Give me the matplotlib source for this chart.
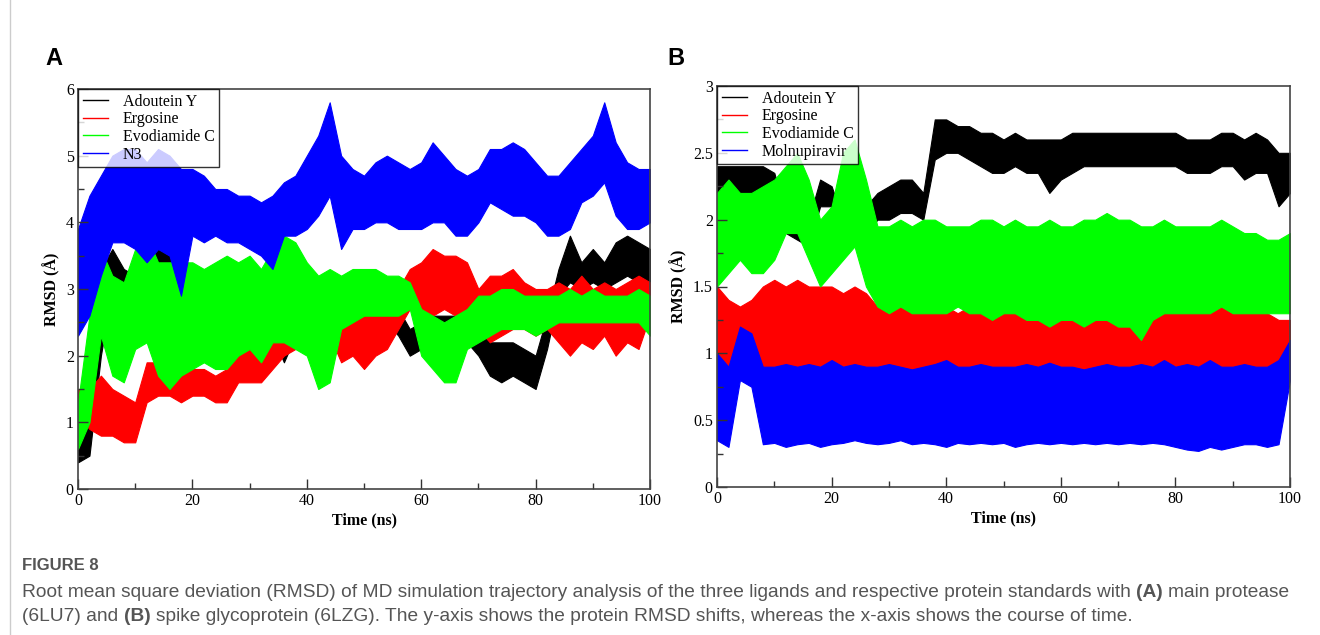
import matplotlib
matplotlib.use("Agg")
import matplotlib.pyplot as plt
from matplotlib.ticker import MultipleLocator, FormatStrFormatter

# time axis (ns), values read every 2 ns as low / high edge of each trace band
time_ns = list(range(0, 101, 2))

# ---- panel A: main protease (6LU7) ----
a_adoutein_lo = [0.4, 0.5, 2.0, 3.0, 2.8, 2.7, 3.1, 3.1, 3.0, 2.2, 2.3, 2.4, 2.4, 2.4, 2.4, 2.5, 2.5, 2.3, 1.9, 2.3,
                 2.5, 2.7, 2.8, 2.6, 2.6, 2.6, 2.6, 2.5, 2.3, 2.0, 2.1, 2.1, 2.0, 2.1, 2.2, 2.0, 1.7, 1.6, 1.7, 1.6,
                 1.5, 2.1, 2.9, 3.1, 3.0, 3.1, 3.0, 3.1, 3.2, 3.1, 3.0]
a_adoutein_hi = [0.8, 1.9, 3.3, 3.6, 3.3, 3.2, 3.5, 3.6, 3.5, 2.9, 2.9, 2.9, 2.8, 2.8, 2.8, 2.9, 2.9, 2.8, 2.4, 2.8,
                 2.9, 3.0, 3.1, 3.0, 3.0, 3.0, 3.0, 2.9, 2.7, 2.4, 2.5, 2.6, 2.6, 2.6, 2.7, 2.6, 2.2, 2.2, 2.2, 2.1,
                 2.0, 2.6, 3.3, 3.8, 3.4, 3.6, 3.4, 3.7, 3.8, 3.7, 3.6]
a_ergosine_lo = [1.1, 0.9, 0.8, 0.8, 0.7, 0.7, 1.3, 1.4, 1.4, 1.3, 1.4, 1.4, 1.3, 1.3, 1.6, 1.6, 1.6, 1.8, 2.0, 2.1,
                 2.1, 2.2, 2.3, 1.9, 2.0, 1.8, 2.0, 2.1, 2.4, 2.7, 2.6, 2.6, 2.7, 2.6, 2.6, 2.4, 2.2, 2.3, 2.4, 2.4,
                 2.3, 2.4, 2.2, 2.0, 2.2, 2.1, 2.3, 2.0, 2.2, 2.1, 2.6]
a_ergosine_hi = [1.5, 1.5, 1.7, 1.5, 1.4, 1.3, 1.9, 1.9, 1.8, 1.9, 1.8, 1.8, 1.7, 1.8, 2.1, 2.2, 2.2, 2.4, 2.5, 2.5,
                 2.6, 2.7, 2.8, 2.5, 2.6, 2.6, 2.7, 2.6, 3.0, 3.3, 3.4, 3.6, 3.5, 3.5, 3.4, 3.0, 3.2, 3.2, 3.3, 3.1,
                 3.0, 3.0, 3.1, 3.0, 3.2, 3.0, 3.1, 3.0, 3.1, 3.2, 3.1]
a_evodiamide_lo = [0.6, 1.0, 2.3, 1.7, 1.6, 2.1, 2.2, 1.7, 1.5, 1.7, 1.8, 1.9, 1.8, 1.8, 2.0, 2.1, 1.9, 2.2, 2.2, 2.1,
                   2.0, 1.5, 1.6, 2.4, 2.5, 2.6, 2.6, 2.6, 2.6, 2.7, 2.0, 1.8, 1.6, 1.6, 2.1, 2.2, 2.3, 2.4, 2.4, 2.4,
                   2.3, 2.4, 2.5, 2.5, 2.5, 2.5, 2.5, 2.5, 2.5, 2.5, 2.3]
a_evodiamide_hi = [1.3, 2.6, 3.6, 3.2, 3.1, 3.6, 3.8, 3.4, 3.4, 3.4, 3.4, 3.3, 3.4, 3.5, 3.4, 3.5, 3.3, 3.6, 3.8, 3.7,
                   3.4, 3.2, 3.3, 3.2, 3.3, 3.3, 3.3, 3.2, 3.2, 3.1, 2.7, 2.6, 2.5, 2.6, 2.7, 2.9, 2.9, 3.0, 3.0, 2.9,
                   2.9, 2.9, 2.9, 3.0, 2.9, 3.0, 2.9, 2.9, 2.9, 3.0, 2.9]
a_n3_lo = [2.3, 2.6, 3.2, 3.7, 3.7, 3.6, 3.4, 3.6, 3.5, 2.9, 3.8, 3.7, 3.8, 3.7, 3.7, 3.6, 3.5, 3.3, 3.8, 3.8,
           3.9, 4.1, 4.4, 3.6, 3.9, 3.9, 4.0, 4.0, 3.9, 3.9, 3.9, 4.0, 4.0, 3.8, 3.8, 4.0, 4.3, 4.2, 4.1, 4.1,
           4.0, 3.8, 3.8, 3.9, 4.3, 4.4, 4.6, 4.1, 3.9, 3.9, 4.0]
a_n3_hi = [3.9, 4.4, 4.7, 5.0, 5.1, 5.1, 4.9, 5.1, 5.0, 4.8, 4.8, 4.7, 4.5, 4.5, 4.4, 4.4, 4.3, 4.4, 4.6, 4.7,
           5.0, 5.3, 5.8, 5.0, 4.8, 4.7, 4.9, 5.0, 4.9, 4.8, 4.9, 5.2, 5.0, 4.8, 4.7, 4.8, 5.1, 5.1, 5.2, 5.1,
           4.9, 4.7, 4.7, 4.9, 5.1, 5.3, 5.8, 5.2, 4.9, 4.8, 4.8]

# ---- panel B: spike glycoprotein (6LZG) ----
b_adoutein_lo = [2.1, 2.2, 2.15, 2.2, 2.15, 2.1, 1.9, 1.85, 1.8, 2.1, 2.1, 1.85, 1.85, 1.9, 2.0, 2.0, 2.05, 2.05,
                 2.0, 2.45, 2.5, 2.5, 2.45, 2.4, 2.35, 2.35, 2.4, 2.35, 2.35, 2.2, 2.3, 2.35, 2.4, 2.4, 2.4, 2.4,
                 2.4, 2.4, 2.4, 2.4, 2.4, 2.35, 2.35, 2.35, 2.4, 2.4, 2.3, 2.35, 2.35, 2.1, 2.2]
b_adoutein_hi = [2.4, 2.4, 2.4, 2.4, 2.4, 2.35, 2.05, 2.05, 2.0, 2.3, 2.25, 2.0, 2.0, 2.1, 2.2, 2.25, 2.3, 2.3,
                 2.2, 2.75, 2.75, 2.7, 2.7, 2.65, 2.65, 2.6, 2.65, 2.6, 2.6, 2.6, 2.6, 2.65, 2.65, 2.65, 2.65, 2.65,
                 2.65, 2.65, 2.65, 2.65, 2.65, 2.6, 2.6, 2.6, 2.65, 2.65, 2.6, 2.65, 2.6, 2.5, 2.5]
b_ergosine_lo = [0.9, 0.9, 0.9, 0.85, 0.85, 0.85, 0.85, 0.9, 0.85, 0.85, 0.85, 0.85, 0.85, 0.85, 0.8, 0.8, 0.85,
                 0.8, 0.8, 0.8, 0.75, 0.85, 0.8, 0.85, 0.8, 0.8, 0.85, 0.8, 0.85, 0.75, 0.8, 0.8, 0.85, 0.8, 0.8,
                 0.75, 0.8, 0.75, 0.8, 0.8, 0.85, 0.8, 0.8, 0.85, 0.8, 0.85, 0.8, 0.8, 0.85, 0.75, 0.9]
b_ergosine_hi = [1.5, 1.4, 1.35, 1.4, 1.5, 1.55, 1.5, 1.55, 1.5, 1.5, 1.5, 1.45, 1.5, 1.45, 1.35, 1.3, 1.35,
                 1.35, 1.3, 1.35, 1.35, 1.3, 1.35, 1.35, 1.3, 1.35, 1.3, 1.35, 1.35, 1.3, 1.3, 1.35, 1.35, 1.3, 1.35,
                 1.3, 1.3, 1.25, 1.4, 1.35, 1.3, 1.3, 1.35, 1.55, 1.35, 1.3, 1.3, 1.3, 1.3, 1.25, 1.25]
b_evodiamide_lo = [1.5, 1.6, 1.7, 1.6, 1.6, 1.7, 1.9, 1.9, 1.7, 1.5, 1.6, 1.7, 1.8, 1.5, 1.35, 1.3, 1.35, 1.3,
                   1.3, 1.3, 1.3, 1.35, 1.3, 1.3, 1.25, 1.3, 1.3, 1.25, 1.25, 1.2, 1.25, 1.25, 1.2, 1.25, 1.25,
                   1.2, 1.2, 1.1, 1.25, 1.3, 1.3, 1.3, 1.3, 1.3, 1.35, 1.3, 1.3, 1.3, 1.3, 1.3, 1.3]
b_evodiamide_hi = [2.2, 2.3, 2.2, 2.2, 2.25, 2.3, 2.4, 2.5, 2.3, 2.0, 2.1, 2.5, 2.6, 2.3, 1.95, 1.95, 2.0, 1.95,
                   2.0, 2.0, 1.95, 1.95, 1.95, 2.0, 2.0, 1.95, 2.0, 1.95, 1.95, 2.0, 1.95, 1.95, 2.0, 2.0, 2.05,
                   2.0, 2.0, 1.95, 1.95, 2.0, 1.95, 1.95, 1.95, 1.95, 2.0, 1.95, 1.9, 1.9, 1.85, 1.85, 1.9]
b_molnupiravir_lo = [0.35, 0.3, 0.8, 0.75, 0.32, 0.33, 0.3, 0.32, 0.33, 0.3, 0.32, 0.33, 0.35, 0.33, 0.32, 0.33,
                     0.35, 0.32, 0.33, 0.32, 0.3, 0.33, 0.32, 0.33, 0.32, 0.33, 0.3, 0.32, 0.33, 0.32, 0.33, 0.32,
                     0.33, 0.32, 0.33, 0.32, 0.33, 0.32, 0.33, 0.32, 0.3, 0.28, 0.27, 0.3, 0.28, 0.3, 0.32, 0.32,
                     0.3, 0.32, 0.8]
b_molnupiravir_hi = [1.0, 0.9, 1.2, 1.15, 0.9, 0.9, 0.92, 0.9, 0.92, 0.9, 0.95, 0.9, 0.92, 0.9, 0.9, 0.92, 0.9,
                     0.88, 0.9, 0.92, 0.95, 0.9, 0.9, 0.92, 0.9, 0.9, 0.9, 0.92, 0.9, 0.93, 0.9, 0.9, 0.88, 0.9,
                     0.92, 0.9, 0.9, 0.92, 0.9, 0.95, 0.9, 0.92, 0.9, 0.95, 0.9, 0.9, 0.92, 0.9, 0.9, 0.95, 1.1]

labels_a = ["Adoutein Y", "Ergosine", "Evodiamide C", "N3"]
labels_b = ["Adoutein Y", "Ergosine", "Evodiamide C", "Molnupiravir"]
colors = ["#000000", "#ff0000", "#00ff00", "#0000ff"]

caption_1 = [("Root mean square deviation (RMSD) of MD simulation trajectory analysis of the three ligands "
              "and respective protein standards with", False), ("(A)", True), ("main protease", False)]
caption_2 = [("(6LU7) and", False), ("(B)", True),
             ("spike glycoprotein (6LZG). The y-axis shows the protein RMSD shifts, "
              "whereas the x-axis shows the course of time.", False)]

serif = ["Liberation Serif", "DejaVu Serif"]
cap_font = "Liberation Sans"

fig = plt.figure(figsize=(13.2, 6.35), dpi=100)
W, H = 1320, 635


def panel(rect, bands, labels, ymax, ymajor, yminor):
    ax = fig.add_axes(rect)
    for (lo, hi), c, lab in zip(bands, colors, labels):
        ax.fill_between(time_ns, lo, hi, color=c, lw=0.8)
        ax.plot([], [], color=c, lw=1, label=lab)
    ax.set_xlim(0, 100)
    ax.set_ylim(0, ymax)
    ax.xaxis.set_major_locator(MultipleLocator(20))
    ax.xaxis.set_minor_locator(MultipleLocator(10))
    ax.yaxis.set_major_locator(MultipleLocator(ymajor))
    ax.yaxis.set_minor_locator(MultipleLocator(yminor))
    ax.yaxis.set_major_formatter(FormatStrFormatter("%g"))
    ax.tick_params(which="both", direction="in", top=False, right=False, width=1, colors="#333333",
                   labelcolor="black", labelsize=11.5, pad=3)
    ax.tick_params(which="major", length=7)
    ax.tick_params(which="minor", length=4)
    for lab in ax.get_xticklabels() + ax.get_yticklabels():
        lab.set_family(serif)
    for s in ax.spines.values():
        s.set_color("#444444")
        s.set_linewidth(1.2)
    ax.set_xlabel("Time (ns)", family=serif, fontweight="bold", fontsize=11.5, labelpad=2)
    ax.set_ylabel("RMSD (Å)", family=serif, fontweight="bold", fontsize=11.5, labelpad=4)
    leg = ax.legend(loc="upper left", borderaxespad=0, frameon=True, fancybox=False,
                    prop={"family": serif, "size": 11.5}, handlelength=1.6, handletextpad=0.9,
                    labelspacing=0.1, borderpad=0.3)
    leg.get_frame().set_edgecolor("black")
    leg.get_frame().set_linewidth(1.0)
    leg.set_zorder(10)
    return ax


panel([78 / W, 1 - 489 / H, 572 / W, 400 / H],
      [(a_adoutein_lo, a_adoutein_hi), (a_ergosine_lo, a_ergosine_hi),
       (a_evodiamide_lo, a_evodiamide_hi), (a_n3_lo, a_n3_hi)],
      labels_a, 6, 1, 0.5)
panel([717 / W, 1 - 487 / H, 573 / W, 401 / H],
      [(b_adoutein_lo, b_adoutein_hi), (b_ergosine_lo, b_ergosine_hi),
       (b_evodiamide_lo, b_evodiamide_hi), (b_molnupiravir_lo, b_molnupiravir_hi)],
      labels_b, 3, 0.5, 0.25)

fig.text(45 / W, 1 - 65 / H, "A", fontsize=17, fontweight="bold", family="Liberation Sans")
fig.text(667 / W, 1 - 65 / H, "B", fontsize=17, fontweight="bold", family="Liberation Sans")

# left frame line of the figure page
fig.add_artist(plt.Line2D([9.5 / W, 9.5 / W], [0, 1], color="#cccccc", lw=1, transform=fig.transFigure))

# caption
fig.text(22 / W, 1 - 570 / H, "FIGURE 8", fontsize=12, fontweight="bold", color="#555555", family=cap_font)

renderer = fig.canvas.get_renderer()


def text_width(s, size, bold):
    t = fig.text(0, 0, s, fontsize=size, family=cap_font, fontweight="bold" if bold else "normal")
    w = t.get_window_extent(renderer).width
    t.remove()
    return w


def line_width(parts, size):
    space = text_width("x x", size, False) - text_width("xx", size, False)
    return sum(text_width(s, size, b) for s, b in parts) + space * (len(parts) - 1), space


# fit the first caption line to the width it takes in the page
base = 10
w10, _ = line_width(caption_1, base)
cap_size = base * 1273 / w10


def draw_line(x, y, parts, size):
    _, space = line_width(parts, size)
    for s, bold in parts:
        t = fig.text(x / W, 1 - y / H, s, fontsize=size, color="#555555", family=cap_font,
                     fontweight="bold" if bold else "normal")
        x += t.get_window_extent(renderer).width + space


draw_line(22, 597, caption_1, cap_size)
draw_line(22, 621, caption_2, cap_size)

fig.savefig("out.png", dpi=100)
